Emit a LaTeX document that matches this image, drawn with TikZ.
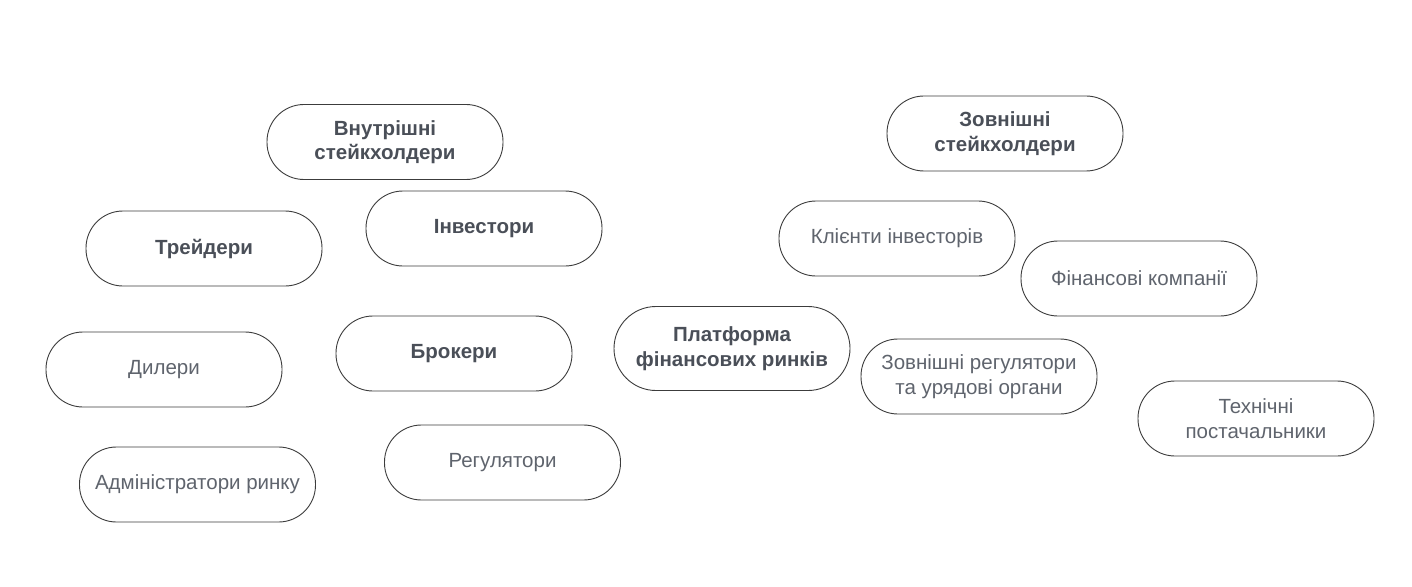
\documentclass[tikz,border=0pt]{standalone}
\usepackage{fontspec}
\setmainfont{Liberation Sans}
\definecolor{edge}{HTML}{3C3C3C}
\definecolor{boldtxt}{HTML}{4A4F58}
\definecolor{plaintxt}{HTML}{5F646D}
\begin{document}
\begin{tikzpicture}[x=1bp,y=-1bp,
  pill/.style={draw=edge, line width=0.9bp, rectangle, rounded corners=37bp,
    minimum width=236bp, minimum height=75bp, align=center, inner sep=0pt,
    font=\fontsize{20.5bp}{24.5bp}\selectfont, text=plaintxt},
  head/.style={pill, font=\fontsize{20.5bp}{24.5bp}\selectfont\bfseries, text=boldtxt}]
\useasboundingbox[fill=white] (0,0) rectangle (1412,587);

% internal stakeholders
\node[head] (inner)  at (385,142)   {Внутрішні\\стейкхолдери};
\node[head] (trad)   at (204,248.5) {Трейдери};
\node[head] (inv)    at (484,228.5) {Інвестори};
\node[pill] (deal)   at (164,369.5) {Дилери};
\node[head] (brok)   at (454,353.5) {Брокери};
\node[pill] (admin)  at (197.5,484.5) {Адміністратори ринку};
\node[pill] (reg)    at (502.5,462.5) {Регулятори};

% central platform
\node[head, minimum height=84bp, rounded corners=42bp] (plat) at (732,348.5) {Платформа\\фінансових ринків};

% external stakeholders
\node[head] (outer)  at (1005,133.5) {Зовнішні\\стейкхолдери};
\node[pill] (cli)    at (897,238.5)  {Клієнти інвесторів};
\node[pill] (fin)    at (1139,278.5) {Фінансові компанії};
\node[pill] (govreg) at (979,376.5)  {Зовнішні регулятори\\та урядові органи};
\node[pill] (tech)   at (1256,418.5) {Технічні\\постачальники};
\end{tikzpicture}
\end{document}
